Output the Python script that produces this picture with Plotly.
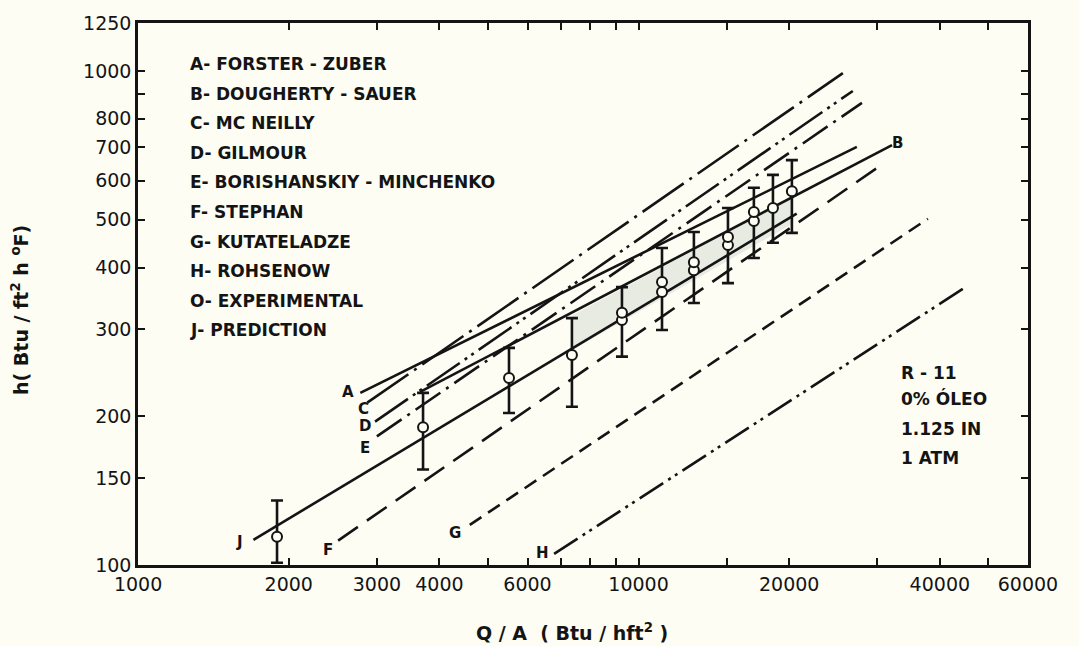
import numpy as np
import plotly.graph_objects as go

# ---------------- data ----------------
# correlation lines: straight in log-log space, start/end points
line_ids = ["A", "B", "C", "D", "E", "F", "G", "H", "J"]
line_q0 = [2780, 3660, 2870, 2975, 3000, 2510, 4600, 6780, 1700]
line_h0 = [223, 224, 213, 195, 182, 112, 120.5, 105.3, 112.4]
line_q1 = [27300, 32100, 25600, 26800, 27950, 29950, 37850, 44460, 20700]
line_h1 = [702, 708, 990, 911, 862, 636, 502, 362, 514]

# experimental points (O)
exp_q = [1895, 3710, 5510, 7360, 9265, 9265, 11140, 11140, 12900, 12900,
         15090, 15090, 17000, 17000, 18560, 20250]
exp_h = [114, 190, 239, 266, 313, 324, 357, 374, 395, 410,
         444, 461, 497, 518, 528, 571]

# error bars
bar_q = [1895, 3710, 5510, 7360, 9265, 11140, 12900, 15090, 17000, 18560, 20250]
bar_hi = [135, 223, 275, 316, 365, 438, 472, 528, 580, 616, 660]
bar_lo = [101, 156, 203, 209, 264, 299, 339, 372, 418, 449, 470]

# shaded band between the upper and lower solid lines
shade_q = [7360, 20250]
shade_hi = [320, 553]
shade_lo = [272, 490]

# axis ticks
x_tickvals = [1000, 2000, 3000, 4000, 6000, 10000, 20000, 40000, 60000]
x_ticktext = ["1000", "2000", "3000", "4000", "6000", "10000", "20000", "40000", "60000"]
x_minorvals = [5000, 7000, 8000, 9000, 15000, 30000, 50000]
y_tickvals = [100, 150, 200, 300, 400, 500, 600, 700, 800, 1000, 1250]
y_ticktext = ["100", "150", "200", "300", "400", "500", "600", "700", "800", "1000", "1250"]
y_minorvals = [900]

legend_lines = ["A- FORSTER - ZUBER", "B- DOUGHERTY - SAUER", "C- MC NEILLY",
                "D- GILMOUR", "E- BORISHANSKIY - MINCHENKO", "F- STEPHAN",
                "G- KUTATELADZE", "H- ROHSENOW", "O- EXPERIMENTAL", "J- PREDICTION"]
cond_lines = ["R - 11", "0% ÓLEO", "1.125 IN", "1 ATM"]

# line labels placed near line ends (data coordinates)
lab_ids = ["A", "C", "D", "E", "J", "F", "G", "H", "B"]
lab_q = [2627, 2815, 2841, 2841, 1591, 2396, 4298, 6442, 32980]
lab_h = [224, 207, 191, 172.5, 111.3, 107.3, 116.1, 105.8, 715]

# ---------------- styling ----------------
BG = "#fdfdf4"
INK = "#141414"
dash_style = {
    "A": "solid",
    "B": "solid",
    "C": "50px,7px,3px,7px",
    "D": "40px,6px,3px,5px,3px,6px",
    "E": "30px,7px,3px,7px",
    "F": "24px,11px",
    "G": "14px,8px",
    "H": "28px,6px,3px,5px,3px,6px",
    "J": "solid",
}

# plot area in pixels
L, R, T, B = 138, 1028, 23, 565
W, H = 1079, 646


def px(xp):
    return (xp - L) / (R - L)


def py(yp):
    return (B - yp) / (B - T)


fig = go.Figure()

# shaded band
fig.add_trace(go.Scatter(
    x=[shade_q[0], shade_q[1], shade_q[1], shade_q[0]],
    y=[shade_hi[0], shade_hi[1], shade_lo[1], shade_lo[0]],
    mode="lines", fill="toself", fillcolor="#e8ebe2",
    line=dict(width=0, color="rgba(0,0,0,0)"), hoverinfo="skip", showlegend=False))

# correlation lines
for i, lid in enumerate(line_ids):
    fig.add_trace(go.Scatter(
        x=[line_q0[i], line_q1[i]], y=[line_h0[i], line_h1[i]],
        mode="lines", line=dict(color=INK, width=2.6, dash=dash_style[lid]),
        showlegend=False, hoverinfo="skip"))

# error bars
bq = np.array(bar_q, dtype=float)
bhi = np.array(bar_hi, dtype=float)
blo = np.array(bar_lo, dtype=float)
fig.add_trace(go.Scatter(
    x=bq, y=blo, mode="markers",
    marker=dict(size=1, color="rgba(0,0,0,0)"),
    error_y=dict(type="data", symmetric=False, array=bhi - blo,
                 arrayminus=np.zeros_like(blo), color=INK, thickness=2.6, width=6),
    showlegend=False, hoverinfo="skip"))

# experimental circles
fig.add_trace(go.Scatter(
    x=exp_q, y=exp_h, mode="markers",
    marker=dict(symbol="circle", size=10, color=BG, line=dict(color=INK, width=2)),
    showlegend=False))

annotations = []
lab_font = dict(family="DejaVu Sans", size=15, color=INK, weight="bold")
for lid, q, h in zip(lab_ids, lab_q, lab_h):
    annotations.append(dict(x=np.log10(q), y=np.log10(h), xref="x", yref="y",
                            text=lid, showarrow=False, font=lab_font,
                            xanchor="center", yanchor="middle"))

leg_font = dict(family="DejaVu Sans", size=17, color=INK, weight="bold")
for i, t in enumerate(legend_lines):
    annotations.append(dict(x=px(188), y=py(64 + 29.6 * i), xref="paper", yref="paper",
                            text=t, showarrow=False, font=leg_font,
                            xanchor="left", yanchor="middle"))

cond_y = [373, 399, 429, 458]
for t, yy in zip(cond_lines, cond_y):
    annotations.append(dict(x=px(899), y=py(yy), xref="paper", yref="paper",
                            text=t, showarrow=False, font=leg_font,
                            xanchor="left", yanchor="middle"))

title_font = dict(family="DejaVu Sans", size=19, color=INK, weight="bold")
annotations.append(dict(x=px(572), y=py(632), xref="paper", yref="paper",
                        text="Q / A  ( Btu / hft<sup>2</sup> )", showarrow=False,
                        font=title_font, xanchor="center", yanchor="middle"))
annotations.append(dict(x=px(20), y=py(310), xref="paper", yref="paper",
                        text="h( Btu / ft<sup>2</sup> h <sup>o</sup>F)", showarrow=False,
                        font=title_font, textangle=-90, xanchor="center", yanchor="middle"))

axis_common = dict(
    type="log", showline=True, linecolor=INK, linewidth=2.5, mirror="ticks",
    ticks="inside", ticklen=7, tickwidth=2, tickcolor=INK,
    showgrid=False, zeroline=False,
    tickfont=dict(family="DejaVu Sans", size=19, color=INK),
)

fig.update_layout(
    width=W, height=H,
    margin=dict(l=L, r=W - R, t=T, b=H - B),
    paper_bgcolor=BG, plot_bgcolor=BG,
    xaxis=dict(range=[np.log10(999.5), np.log10(60010)], tickmode="array",
               tickvals=x_tickvals, ticktext=x_ticktext,
               minor=dict(tickmode="array", tickvals=x_minorvals, ticks="inside",
                          ticklen=7, tickwidth=2, tickcolor=INK, showgrid=False),
               **axis_common),
    yaxis=dict(range=[np.log10(99.95), np.log10(1250.5)], tickmode="array",
               tickvals=y_tickvals, ticktext=y_ticktext,
               minor=dict(tickmode="array", tickvals=y_minorvals, ticks="inside",
                          ticklen=7, tickwidth=2, tickcolor=INK, showgrid=False),
               **axis_common),
    annotations=annotations,
    showlegend=False,
)

fig.write_html("out.html")
